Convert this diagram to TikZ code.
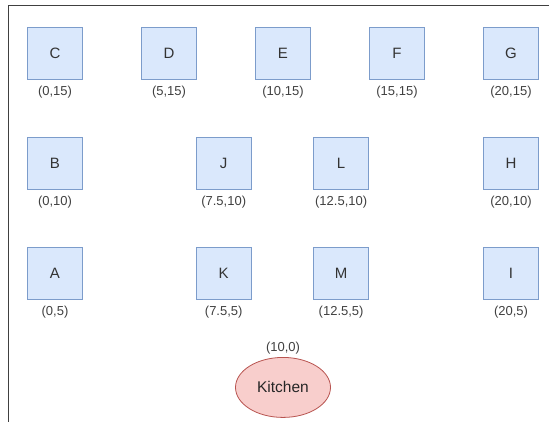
\documentclass[tikz,border=0pt]{standalone}
\usepackage{fontspec}
\setmainfont{Liberation Sans}
\definecolor{tblfill}{HTML}{DAE8FC}
\definecolor{tbldraw}{HTML}{7C9CCB}
\definecolor{kitfill}{HTML}{F8CECC}
\definecolor{kitdraw}{HTML}{B85450}
\usetikzlibrary{shapes.geometric}
\begin{document}
\begin{tikzpicture}[x=22.8pt, y=22pt,
    table/.style={rectangle,draw=tbldraw,fill=tblfill,line width=0.7pt,minimum width=55pt,minimum height=52pt,font=\fontsize{15}{18}\selectfont,text=black!80},
    pos/.style={label={[font=\fontsize{13}{15}\selectfont,text=black!75,label distance=3.5pt]below:#1}},
    kitchen/.style={ellipse,draw=kitdraw,fill=kitfill,line width=0.8pt,minimum width=95pt,minimum height=60pt,font=\fontsize{15.5}{18}\selectfont,text=black!85}]
  \useasboundingbox (-2.412,17.41) rectangle (21.886,-1.727);
  % frame
  \draw[black!75, line width=1pt] (21.667,17.18) -- (-2.061,17.18) -- (-2.061,-1.8);
  % top row
  \node[table, pos={(0,15)}] (C) at (0,15) {C};
  \node[table, pos={(5,15)}] (D) at (5,15) {D};
  \node[table, pos={(10,15)}] (E) at (10,15) {E};
  \node[table, pos={(15,15)}] (F) at (15,15) {F};
  \node[table, pos={(20,15)}] (G) at (20,15) {G};
  % middle row
  \node[table, pos={(0,10)}] (B) at (0,10) {B};
  \node[table, pos={(7.5,10)}] (J) at (7.4,10) {J};
  \node[table, pos={(12.5,10)}] (L) at (12.55,10) {L};
  \node[table, pos={(20,10)}] (H) at (20,10) {H};
  % bottom row
  \node[table, pos={(0,5)}] (A) at (0,5) {A};
  \node[table, pos={(7.5,5)}] (K) at (7.4,5) {K};
  \node[table, pos={(12.5,5)}] (M) at (12.55,5) {M};
  \node[table, pos={(20,5)}] (I) at (20,5) {I};
  % kitchen
  \node[kitchen, label={[font=\fontsize{13}{15}\selectfont,text=black!75,label distance=-1pt]above:(10,0)}] (kitchen) at (10,-0.2) {Kitchen};
\end{tikzpicture}
\end{document}
